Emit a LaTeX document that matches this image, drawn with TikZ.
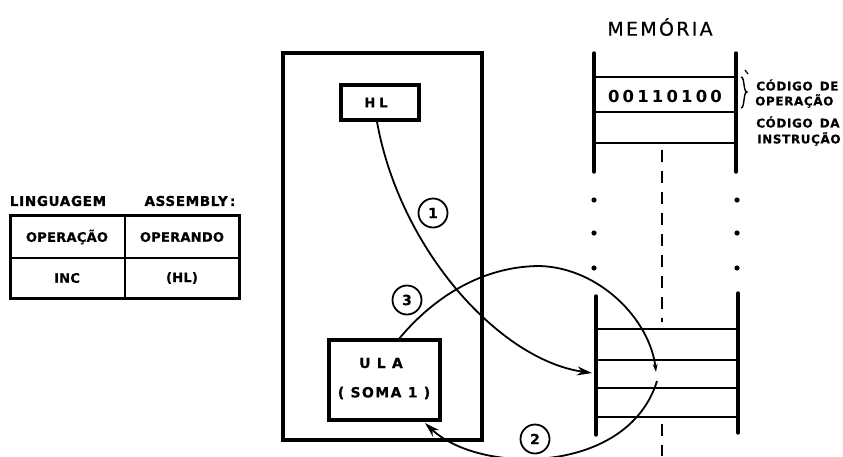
\documentclass[tikz,border=0pt]{standalone}
\usepackage{fontspec}
\setmainfont{DejaVu Sans}
\newfontfamily\tabfont{DejaVu Sans}[LetterSpace=2,BoldFeatures={FakeBold=0.6}]
\newfontfamily\ulafont{DejaVu Sans}[LetterSpace=10,BoldFeatures={FakeBold=0.6}]
\newfontfamily\sidefont{DejaVu Sans}[LetterSpace=5,BoldFeatures={FakeBold=0.5}]
\newfontfamily\hdfont{DejaVu Sans}[LetterSpace=5,BoldFeatures={FakeBold=1.2}]
\newfontfamily\memfont{DejaVu Sans}[LetterSpace=12,FakeBold=0.6]
\newfontfamily\digfont{DejaVu Sans}[LetterSpace=19]
\usetikzlibrary{arrows.meta}
\begin{document}
\begin{tikzpicture}[x=1pt,y=-1pt,
  thickbox/.style={draw,line width=3.6pt,inner sep=0pt},
  rail/.style={line width=3.4pt,line cap=round},
  cellline/.style={line width=1.8pt},
  conn/.style={line width=1.8pt},
  num/.style={draw,circle,line width=1.8pt,minimum size=29pt,inner sep=0pt,font=\tabfont\bfseries\fontsize{14}{14}\selectfont},
  lbl/.style={font=\tabfont\bfseries\fontsize{13}{14}\selectfont,inner sep=0pt},
  side/.style={font=\sidefont\bfseries\fontsize{12}{13}\selectfont,inner sep=0pt,anchor=west},
  hd/.style={font=\hdfont\bfseries\fontsize{13.5}{15}\selectfont,inner sep=0pt},
  big/.style={font=\ulafont\bfseries\fontsize{14}{15}\selectfont,inner sep=0pt},
  tip/.style={-{Stealth[length=15pt,width=9pt]}}
]
\useasboundingbox (0,0) rectangle (843,456);

% ---- table
\node[hd] (lg) at (58,201) {LINGUAGEM};
\node[hd] (as) at (190,201) {ASSEMBLY\,:};
\draw[line width=3pt] (10,215) rectangle (239,298);
\draw[line width=2.6pt] (10,258) -- (239,258);
\draw[line width=2.6pt] (125,215) -- (125,298);
\node[lbl] (t1) at (67,237) {OPERAÇÃO};
\node[lbl] (t2) at (182,237) {OPERANDO};
\node[lbl] (t3) at (67,278) {INC};
\node[lbl] (t4) at (182,278) {(HL)};

% ---- CPU
\node[thickbox,minimum width=199pt,minimum height=387pt] (cpu) at (382.5,246.5) {};
\node[thickbox,minimum width=78pt,minimum height=35pt] (hl) at (380,102.5) {};
\node[big,font=\ulafont\bfseries\fontsize{13}{14}\selectfont] (hlt) at (376,102.5) {H\hspace{4pt}L};
\node[thickbox,minimum width=111pt,minimum height=80pt] (ula) at (384.5,380) {};
\node[big] (ula1) at (381,363) {U L A};
\node[big] (ula2) at (384,393) {( SOMA 1 )};

% ---- memory
\node[font=\memfont\fontsize{19}{21}\selectfont,inner sep=0pt] (mem) at (660,27) {MEMÓRIA};
\draw[rail] (594,53) -- (594,172);
\draw[rail] (736,53) -- (736,172);
\draw[cellline] (594,77) -- (736,77);
\draw[cellline] (594,112) -- (736,112);
\draw[cellline] (594,143) -- (736,143);
\node[font=\digfont\bfseries\fontsize{16.5}{18}\selectfont,inner sep=0pt] (code) at (665,96) {00110100};
\draw[line width=1.4pt] (741,77) .. controls (745,77) and (743,92) .. (747,92) .. controls (743,92) and (745,108) .. (741,108);
\draw[line width=1.2pt] (745,70) -- (748,74);
\node[side] (c1) at (756,85) {CÓDIGO\hspace{7pt}DE};
\node[side] (c2) at (755,101) {OPERAÇÃO};
\node[side] (c3) at (756,122) {CÓDIGO\hspace{7pt}DA};
\node[side] (c4) at (757,139) {INSTRUÇÃO};

\draw[line width=1.8pt,dash pattern=on 12pt off 9pt] (662,150) -- (662,322);
\draw[line width=1.8pt,dash pattern=on 12pt off 9pt] (662,424) -- (662,456);
\foreach \yy in {200,233,268}{
  \fill (594,\yy) circle (2.6pt);
  \fill (737,\yy) circle (2.6pt);
}
\draw[rail] (596,296) -- (596,435);
\draw[rail] (738,293) -- (738,433);
\foreach \yy in {329,360,388,417}{
  \draw[cellline] (596,\yy) -- (738,\yy);
}

% ---- connectors
\coordinate (m1) at (592,373);
\coordinate (m2) at (656,372);
\coordinate (m3) at (657,381);
\coordinate (u2) at (425,423);
\draw[conn,tip] ([xshift=-3pt]hl.south) .. controls (400,250) and (500,360) .. (m1);
\draw[conn,-{Stealth[length=8pt,width=5pt]}] ([xshift=15pt]ula.north) .. controls (440,290) and (490,266) .. (540,266) .. controls (600,268) and (650,320) .. (m2);
\draw[conn,tip] (m3) .. controls (628,475) and (480,475) .. (u2);

\node[num] (n1) at (433,213) {1};
\node[num] (n3) at (407,300) {3};
\node[num] (n2) at (535,439) {2};
\end{tikzpicture}
\end{document}
